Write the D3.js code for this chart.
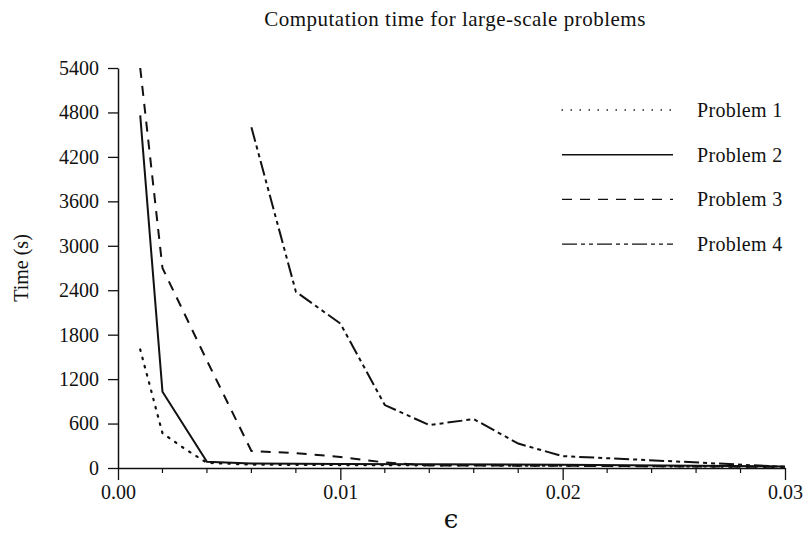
<!DOCTYPE html>
<html>
<head>
<meta charset="utf-8">
<script src="https://d3js.org/d3.v7.min.js"></script>
<style>
  html, body { margin: 0; padding: 0; background: #fff; }
  svg text { font-family: "Liberation Serif", "DejaVu Serif", serif; fill: #111; }
</style>
</head>
<body>
<div id="main-stage"></div>
<script>
// Datos
const epsilonP1 = [0.001, 0.002, 0.003, 0.004, 0.006, 0.01, 0.02, 0.03];
const timeP1    = [1600, 470, 260, 70, 45, 40, 30, 15];

const epsilonP2 = [0.001, 0.002, 0.004, 0.006, 0.01, 0.02, 0.03];
const timeP2    = [4760, 1030, 85, 60, 55, 45, 20];

const epsilonP3 = [0.001, 0.002, 0.004, 0.006, 0.008, 0.01, 0.012, 0.014, 0.02, 0.03];
const timeP3    = [5400, 2700, 1450, 230, 200, 150, 75, 35, 30, 15];

const epsilonP4 = [0.006, 0.008, 0.01, 0.012, 0.014, 0.016, 0.018, 0.02, 0.025, 0.03];
const timeP4    = [4600, 2380, 1950, 850, 580, 660, 330, 160, 90, 15];

const seriesNames = ["Problem 1", "Problem 2", "Problem 3", "Problem 4"];
const yTickValues = [0, 600, 1200, 1800, 2400, 3000, 3600, 4200, 4800, 5400];
const xTickValues = [0, 0.01, 0.02, 0.03];
const xMinorTicks = [0.002, 0.004, 0.006, 0.008, 0.012, 0.014, 0.016, 0.018, 0.022, 0.024, 0.026, 0.028];

const dashes = ["1.5,7", null, "10,8", "15,4,4,4,4,4"];

const width = 804, height = 548;
const margin = { top: 68, right: 19, bottom: 80, left: 118 };

const svg = d3.select("#main-stage").append("svg")
    .attr("width", width)
    .attr("height", height);

const x = d3.scaleLinear().domain([0, 0.03]).range([margin.left, width - margin.right]);
const y = d3.scaleLinear().domain([0, 5400]).range([height - margin.bottom, margin.top]);

// Titulo
svg.append("text")
    .attr("x", 455).attr("y", 26)
    .attr("text-anchor", "middle")
    .style("font-size", "21px")
    .style("letter-spacing", "0.5px")
    .text("Computation time for large-scale problems");

// Ejes
const yAxis = svg.append("g")
    .attr("transform", `translate(${margin.left},0)`)
    .call(d3.axisLeft(y).tickValues(yTickValues).tickFormat(d3.format("d"))
        .tickSize(10).tickPadding(9).tickSizeOuter(0));

const xAxis = svg.append("g")
    .attr("transform", `translate(0,${height - margin.bottom})`)
    .call(d3.axisBottom(x).tickValues(xTickValues).tickFormat(d3.format(".2f"))
        .tickSize(12).tickPadding(5).tickSizeOuter(0));

svg.append("g")
    .attr("transform", `translate(0,${height - margin.bottom})`)
    .selectAll("line")
    .data(xMinorTicks)
    .join("line")
    .attr("x1", d => x(d)).attr("x2", d => x(d))
    .attr("y1", 0).attr("y2", 5)
    .attr("stroke", "#111")
    .attr("stroke-width", 1.2);

[yAxis, xAxis].forEach(g => {
    g.selectAll("path").attr("stroke", "#111").attr("stroke-width", 1.5);
    g.selectAll("line").attr("stroke", "#111").attr("stroke-width", 1.3);
    g.selectAll("text").style("font-size", "20px").style("font-family", "Liberation Serif, DejaVu Serif, serif");
});

// Etiquetas de ejes
svg.append("text")
    .attr("transform", "translate(28,268) rotate(-90)")
    .attr("text-anchor", "middle")
    .style("font-size", "20px")
    .text("Time (s)");

svg.append("text")
    .attr("x", 451).attr("y", 528)
    .attr("text-anchor", "middle")
    .style("font-size", "26px")
    .style("font-family", "DejaVu Serif, serif")
    .text("\u03F5");

// Series
const allSeries = [
    d3.zip(epsilonP1, timeP1),
    d3.zip(epsilonP2, timeP2),
    d3.zip(epsilonP3, timeP3),
    d3.zip(epsilonP4, timeP4)
];

const line = d3.line().x(d => x(d[0])).y(d => y(d[1]));

svg.append("g").selectAll("path")
    .data(allSeries)
    .join("path")
    .attr("d", line)
    .attr("fill", "none")
    .attr("stroke", "#111")
    .attr("stroke-width", (d, i) => i === 0 ? 2.2 : 2)
    .attr("stroke-linecap", (d, i) => i === 0 ? "round" : "butt")
    .attr("stroke-dasharray", (d, i) => dashes[i]);

// Leyenda
const legend = svg.append("g")
    .selectAll("g")
    .data(seriesNames)
    .join("g")
    .attr("transform", (d, i) => `translate(562,${110 + i * 44.7})`);

legend.append("line")
    .attr("x1", 0).attr("x2", 111)
    .attr("stroke", "#111")
    .attr("stroke-width", (d, i) => i === 0 ? 1.3 : 1.4)
    .attr("stroke-linecap", (d, i) => i === 0 ? "round" : "butt")
    .attr("stroke-dasharray", (d, i) => i === 0 ? "0.5,8.5" : dashes[i]);

legend.append("text")
    .attr("x", 135).attr("dy", "0.35em")
    .style("font-size", "20px")
    .style("letter-spacing", "0.3px")
    .text(d => d);
</script>
</body>
</html>
